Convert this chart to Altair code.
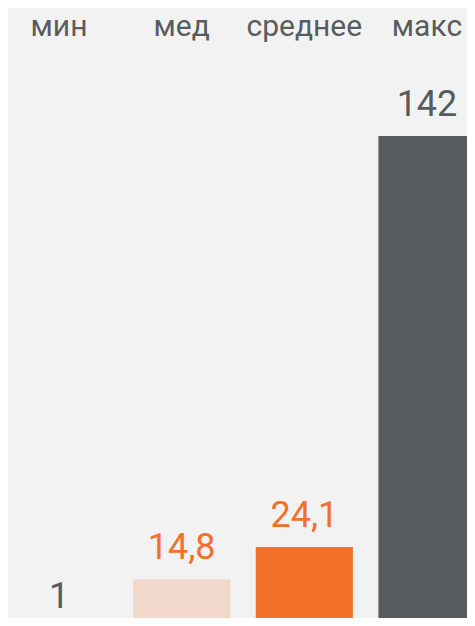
import altair as alt
import pandas as pd

categories = ["мин", "мед", "среднее", "макс"]
values = [1, 14.8, 24.1, 142]

def fmt(v):
    s = f"{v:g}"
    return s.replace(".", ",")

df = pd.DataFrame({
    "cat": categories,
    "value": values,
    "label": [fmt(v) for v in values],
})

bar_colors = ["#575b5e", "#f2d8ca", "#f3702b", "#575b5e"]
label_colors = ["#575b5e", "#f3702b", "#f3702b", "#575b5e"]

x = alt.X("cat:N", sort=categories, axis=None,
          scale=alt.Scale(paddingInner=0.208, paddingOuter=0.02, range=[0, 470]))
y_scale = alt.Scale(domain=[0, 178.7], nice=False, zero=True, range=[623, 0])

base = alt.Chart(df)

bars = base.mark_bar(clip=True).encode(
    x=x,
    y=alt.Y("value:Q", scale=y_scale, axis=None),
    color=alt.Color("cat:N", scale=alt.Scale(domain=categories, range=bar_colors), legend=None),
)

labels = base.mark_text(
    font="Roboto", fontSize=36, baseline="alphabetic", align="center", dy=-20
).encode(
    x=x,
    y=alt.Y("value:Q", scale=y_scale, axis=None),
    text="label:N",
    color=alt.Color("cat:N", scale=alt.Scale(domain=categories, range=label_colors), legend=None),
)

headers = base.mark_text(
    font="Roboto", fontSize=30, baseline="alphabetic", align="center", color="#585c5f"
).encode(
    x=x,
    y=alt.value(28),
    text="cat:N",
)

chart = alt.layer(bars, labels, headers).resolve_scale(color="independent").properties(
    width=459, height=610, background="#f2f2f2", padding=0
).configure_view(stroke=None)

chart.save("out.html", embed_options={"renderer": "svg", "actions": False})
